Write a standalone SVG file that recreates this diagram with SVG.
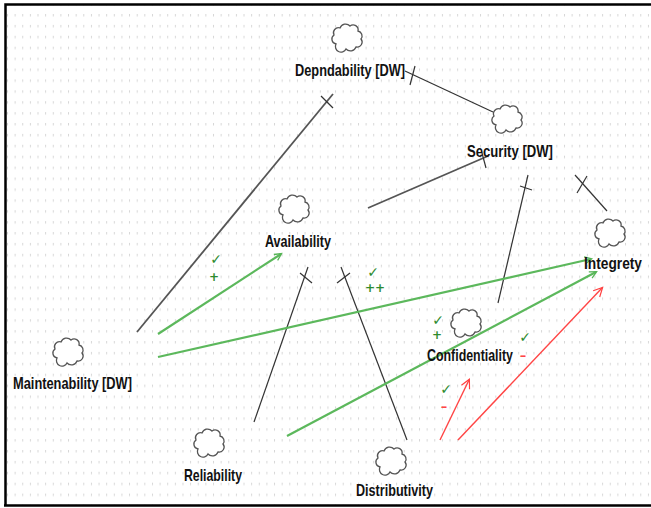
<svg xmlns="http://www.w3.org/2000/svg" xmlns:xlink="http://www.w3.org/1999/xlink" width="651" height="508" viewBox="0 0 651 508">
<defs>
<pattern id="grid" x="7" y="14" width="7.63" height="10.9" patternUnits="userSpaceOnUse">
<rect x="0" y="0" width="1" height="2.5" fill="#d6d6d6"/>
</pattern>
<path id="cloud" d="M-11,6 a5,5 0 0 1 -2,-9 a5,5 0 0 1 6,-7 a6,6 0 0 1 10,-2 a5,5 0 0 1 8,5 a5,5 0 0 1 3,8 a5,5 0 0 1 -5,8 a6,6 0 0 1 -10,2 a5,5 0 0 1 -10,-5 z"/>
<marker id="ag" viewBox="0 0 10 10" refX="9" refY="5" markerWidth="7" markerHeight="7" markerUnits="userSpaceOnUse" orient="auto" overflow="visible">
<path d="M0,0 L10,5 L0,10" fill="none" stroke="#55b455" stroke-width="1.8"/>
</marker>
<marker id="ar" viewBox="0 0 10 10" refX="9" refY="5" markerWidth="9" markerHeight="9" markerUnits="userSpaceOnUse" orient="auto" overflow="visible">
<path d="M0,0 L10,5 L0,10" fill="none" stroke="#ff4040" stroke-width="1.3"/>
</marker>
</defs>
<style>
.cl{fill:#fff;stroke:#555;stroke-width:1.3}
.lb{font-family:"Liberation Sans",Arial,sans-serif;font-weight:bold;font-size:17px;fill:#111;text-anchor:middle}
.bk{stroke:#333;stroke-width:1.2;fill:none}
.gy{stroke:#555;stroke-width:1.8;fill:none}
.gr{stroke:#5cb85c;stroke-width:2.2;fill:none}
.rd{stroke:#ff4545;stroke-width:1.4;fill:none}
.ck{font-family:"DejaVu Sans",sans-serif;font-size:14px;fill:#2e8b2e;font-weight:bold;text-anchor:middle}
.pl{font-family:"DejaVu Sans",sans-serif;font-size:12px;fill:#2e8b2e;font-weight:bold;text-anchor:middle}
.mn{font-family:"DejaVu Sans",sans-serif;font-size:13px;fill:#ff4545;font-weight:bold;text-anchor:middle}
</style>
<rect x="0" y="0" width="651" height="508" fill="#fff"/>
<rect x="6" y="5" width="645" height="500" fill="url(#grid)"/>
<path d="M5.5,506 L5.5,4.5 L651,4.5" fill="none" stroke="#000" stroke-width="2.5"/>
<line x1="4" y1="505.5" x2="651" y2="505.5" stroke="#000" stroke-width="2.5"/>

<g id="connectors">
<line class="gy" x1="137" y1="332" x2="333" y2="94"/>
<line class="bk" x1="321" y1="96" x2="333" y2="108"/>
<line class="bk" x1="405" y1="71" x2="493" y2="112"/>
<line class="bk" x1="410" y1="85" x2="415" y2="66"/>
<line class="gy" x1="368" y1="208" x2="488" y2="156"/>
<line class="bk" x1="482" y1="153" x2="486" y2="168"/>
<line class="bk" x1="528" y1="175" x2="498" y2="303"/>
<line class="bk" x1="520" y1="186" x2="532" y2="190"/>
<line class="bk" x1="575" y1="175" x2="607" y2="211"/>
<line class="bk" x1="577" y1="193" x2="587" y2="176"/>
<line class="bk" x1="254" y1="422" x2="308" y2="267"/>
<line class="bk" x1="300" y1="273" x2="312" y2="283"/>
<line class="bk" x1="407" y1="440" x2="341" y2="267"/>
<line class="bk" x1="337" y1="283" x2="350" y2="273"/>
<line class="gr" x1="158" y1="334" x2="281" y2="254" marker-end="url(#ag)"/>
<line class="gr" x1="158" y1="357" x2="591" y2="259" marker-end="url(#ag)"/>
<line class="gr" x1="287" y1="436" x2="596" y2="272" marker-end="url(#ag)"/>
<line class="rd" x1="440" y1="440" x2="469" y2="380" marker-end="url(#ar)"/>
<line class="rd" x1="458" y1="440" x2="602" y2="288" marker-end="url(#ar)"/>
<text class="ck" x="216" y="264">✓</text>
<text class="pl" x="214" y="281">+</text>
<text class="ck" x="373" y="277">✓</text>
<text class="pl" x="375" y="292">++</text>
<text class="ck" x="438" y="325">✓</text>
<text class="pl" x="437" y="339">+</text>
<text class="ck" x="446" y="394">✓</text>
<text class="mn" x="444" y="411">–</text>
<text class="ck" x="525" y="342">✓</text>
<text class="mn" x="523" y="360">–</text>
</g>

<g id="dependability"><use xlink:href="#cloud" class="cl" transform="translate(347,38)"/><text class="lb" x="350" y="76" textLength="110" lengthAdjust="spacingAndGlyphs">Depndability [DW]</text></g>
<g id="security"><use xlink:href="#cloud" class="cl" transform="translate(507,119)"/><text class="lb" x="510" y="157" textLength="86" lengthAdjust="spacingAndGlyphs">Security [DW]</text></g>
<g id="integrety"><use xlink:href="#cloud" class="cl" transform="translate(610,233)"/><text class="lb" x="613" y="269" textLength="58" lengthAdjust="spacingAndGlyphs">Integrety</text></g>
<g id="availability"><use xlink:href="#cloud" class="cl" transform="translate(294,209)"/><text class="lb" x="298" y="247" textLength="66" lengthAdjust="spacingAndGlyphs">Availability</text></g>
<g id="maintenability"><use xlink:href="#cloud" class="cl" transform="translate(68,352)"/><text class="lb" x="72.5" y="389" textLength="119" lengthAdjust="spacingAndGlyphs">Maintenability [DW]</text></g>
<g id="reliability"><use xlink:href="#cloud" class="cl" transform="translate(209,443)"/><text class="lb" x="213" y="481" textLength="58" lengthAdjust="spacingAndGlyphs">Reliability</text></g>
<g id="distributivity"><use xlink:href="#cloud" class="cl" transform="translate(391,461)"/><text class="lb" x="394.5" y="496" textLength="77" lengthAdjust="spacingAndGlyphs">Distributivity</text></g>
<g id="confidentiality"><use xlink:href="#cloud" class="cl" transform="translate(466,323)"/><text class="lb" x="470" y="361" textLength="86" lengthAdjust="spacingAndGlyphs">Confidentiality</text></g>
</svg>
